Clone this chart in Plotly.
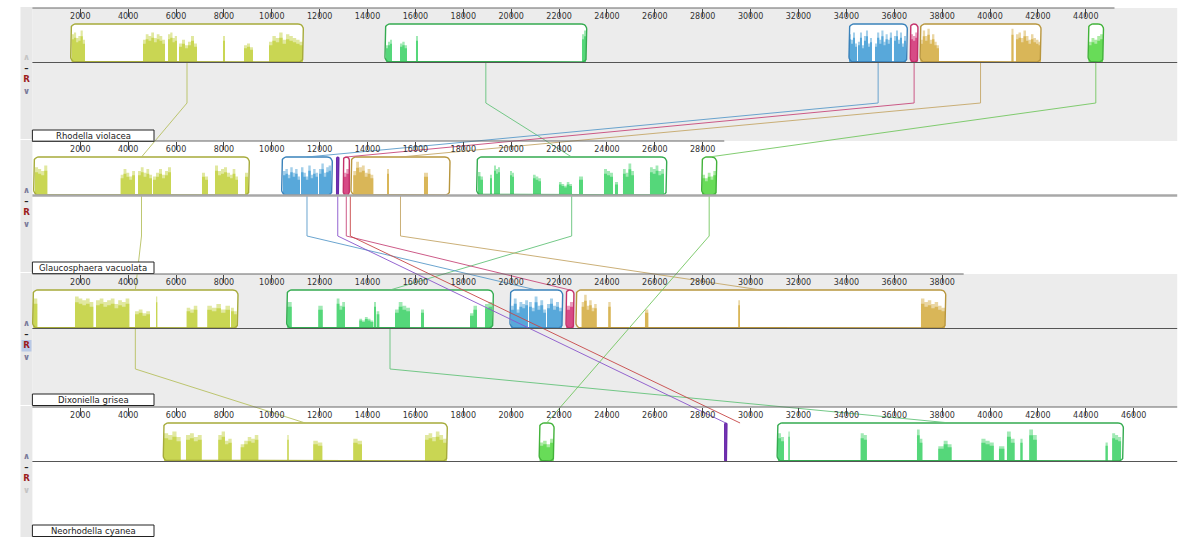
import numpy as np
import plotly.graph_objects as go

# ---------------- data ----------------
genomes = ["Rhodella violacea", "Glaucosphaera vacuolata", "Dixoniella grisea", "Neorhodella cyanea"]
genome_lengths = [45200, 28900, 38900, 47820]
tick_step = 2000

lcb_names = ["yellow", "green", "blue", "pink", "tan", "lime", "purple", "red"]

# LCB extents (start, end) in bp for each genome, None = absent
lcb_yellow = [(1600, 11316), (54, 9060), (12, 8588), (5468, 17330)]
lcb_green = [(14728, 23153), (18558, 26495), (10622, 19253), (31110, 45570)]
lcb_blue = [(34110, 36545), (10413, 12527), (19950, 22150), None]
lcb_pink = [(36670, 36990), (12986, 13237), (22290, 22620), None]
lcb_tan = [(37080, 42130), (13308, 17443), (22706, 38150), None]
lcb_lime = [(44100, 44740), (27957, 28583), None, (21170, 21790)]
lcb_purple = [None, (12710, 12800), None, (28920, 29010)]
lcb_red = [None, (13250, 13310), None, (29520, 29600)]
hidden_blocks = ["red"]

# similarity profiles: (start, end, [relative heights]) per genome
prof_yellow = [
    [(1642, 2197, [0.75, 0.8, 0.65, 0.7, 0.85, 0.6]), (4620, 5539, [0.6, 0.75, 0.7, 0.8, 0.65, 0.75, 0.7, 0.6]),
     (5664, 6040, [0.75, 0.8, 0.65, 0.7]), (6124, 6875, [0.5, 0.6, 0.45, 0.55, 0.7, 0.5]), (7961, 8045, [0.7]),
     (8839, 9214, [0.45, 0.5, 0.4]), (9883, 11303, [0.55, 0.7, 0.65, 0.8, 0.6, 0.75, 0.7, 0.65, 0.6, 0.55])],
    [(109, 622, [0.75, 0.7, 0.65, 0.8]), (3688, 4286, [0.55, 0.7, 0.6, 0.5, 0.65]), (4411, 4996, [0.65, 0.75, 0.6, 0.7, 0.55]),
     (5037, 5789, [0.5, 0.6, 0.7, 0.55, 0.65, 0.75]), (7084, 7335, [0.6, 0.5]), (7627, 8254, [0.8, 0.65, 0.7, 0.75, 0.6]),
     (8254, 8588, [0.55, 0.7, 0.5]), (8880, 9006, [0.6])],
    [(38, 205, [0.8]), (1779, 2544, [0.85, 0.8, 0.75, 0.8, 0.7]), (2657, 4048, [0.75, 0.8, 0.7, 0.75, 0.8, 0.65, 0.75, 0.7, 0.8]),
     (4286, 4912, [0.45, 0.5, 0.4, 0.45]), (5163, 5217, [0.85]), (6445, 6888, [0.55, 0.5, 0.6]),
     (7306, 8254, [0.6, 0.55, 0.65, 0.5, 0.6]), (8296, 8534, [0.55, 0.45])],
    [(5497, 6194, [0.75, 0.7, 0.8, 0.65]), (6416, 7072, [0.7, 0.75, 0.65, 0.7]), (7765, 8325, [0.7, 0.8, 0.55, 0.6]),
     (8701, 9436, [0.45, 0.55, 0.65, 0.6, 0.7]), (10647, 10706, [0.7]), (11733, 12109, [0.55, 0.5]),
     (13404, 13767, [0.6, 0.55]), (16399, 17305, [0.7, 0.75, 0.65, 0.8, 0.7, 0.6])],
]
prof_green = [
    [(14770, 15021, [0.45, 0.55, 0.6]), (15355, 15647, [0.5, 0.55, 0.45]), (16023, 16106, [0.7]), (22957, 23124, [0.75, 0.85])],
    [(18613, 18822, [0.62, 0.5]), (19114, 19198, [0.55]), (19281, 19532, [0.8, 0.7, 0.75]), (19950, 20117, [0.65, 0.6]),
     (20910, 21244, [0.55, 0.5, 0.45]), (21996, 22539, [0.35, 0.3, 0.25, 0.35, 0.3]), (22832, 22999, [0.5]),
     (23876, 24252, [0.7, 0.65, 0.6]), (24335, 24461, [0.35]), (24669, 25129, [0.7, 0.6, 0.85, 0.65]),
     (25797, 26382, [0.75, 0.7, 0.8, 0.65, 0.7])],
    [(10647, 10831, [0.7]), (11942, 12126, [0.6]), (12711, 13057, [0.8, 0.6, 0.7]), (13655, 14239, [0.25, 0.2, 0.3, 0.25, 0.2]),
     (14269, 14352, [0.7]), (14382, 14490, [0.45]), (15146, 15772, [0.5, 0.7, 0.6, 0.55]), (16232, 16357, [0.5]),
     (18279, 18571, [0.4, 0.6]), (18905, 19198, [0.65, 0.7])],
    [(31144, 31394, [0.75, 0.65]), (31579, 31634, [0.8]), (34598, 34857, [0.75, 0.7]), (36950, 37175, [0.85, 0.6]),
     (37840, 38065, [0.4]), (38065, 38395, [0.55, 0.45]), (39640, 40158, [0.6, 0.55, 0.5]), (40375, 40600, [0.4]),
     (40709, 41027, [0.8, 0.6]), (41269, 41361, [0.6]), (41640, 41954, [0.85, 0.7]), (44827, 44919, [0.5]),
     (45104, 45475, [0.75, 0.7, 0.65])],
]
prof_blue = [
    [(34109, 34444, [0.75, 0.6, 0.8, 0.5]), (34485, 35070, [0.55, 0.8, 0.45, 0.7, 0.85, 0.5, 0.65]),
     (35196, 35905, [0.5, 0.8, 0.6, 0.85, 0.55, 0.75, 0.6, 0.8]), (35989, 36490, [0.7, 0.85, 0.6, 0.8, 0.5, 0.7])],
    [(10468, 11178, [0.65, 0.7, 0.55, 0.75, 0.6, 0.7, 0.5]), (11220, 11930, [0.75, 0.6, 0.5, 0.8, 0.55, 0.7, 0.6]),
     (11971, 12473, [0.7, 0.85, 0.6, 0.75, 0.8])],
    [(19991, 20701, [0.6, 0.8, 0.5, 0.7, 0.65, 0.75]), (20743, 21453, [0.7, 0.55, 0.85, 0.6, 0.75, 0.5]),
     (21495, 22121, [0.65, 0.8, 0.6, 0.7, 0.55])],
    [],
]
prof_pink = [
    [(36690, 36970, [0.75, 0.7, 0.8])],
    [(13000, 13225, [0.6, 0.7])],
    [(22305, 22605, [0.6, 0.7])],
    [],
]
prof_tan = [
    [(37096, 37869, [0.6, 0.85, 0.7, 0.9, 0.6, 0.75, 0.55, 0.45]), (40897, 40981, [0.9]),
     (41085, 42129, [0.75, 0.8, 0.65, 0.85, 0.7, 0.6, 0.75, 0.65, 0.6, 0.55])],
    [(13404, 14239, [0.65, 0.9, 0.75, 0.8, 0.6, 0.7, 0.55]), (14812, 14895, [0.7]), (16357, 16524, [0.6])],
    [(22944, 23571, [0.7, 0.9, 0.6, 0.75, 0.55, 0.65]), (24055, 24155, [0.7]), (25588, 25726, [0.5]),
     (29485, 29556, [0.75]), (37117, 38119, [0.8, 0.7, 0.75, 0.65, 0.7, 0.6, 0.55])],
    [],
]
prof_lime = [
    [(44120, 44720, [0.55, 0.65, 0.6, 0.7, 0.75])],
    [(27980, 28560, [0.55, 0.45, 0.6, 0.5, 0.65])],
    [],
    [(21190, 21770, [0.5, 0.55, 0.45, 0.6])],
]
prof_purple = [[], [(12710, 12800, [1.0])], [], [(28920, 29010, [1.0])]]
prof_red = [[], [], [], []]

lcb_fill = {"yellow": "#c9d653", "green": "#55d77a", "blue": "#58a8da", "pink": "#d74b86",
            "tan": "#d9b658", "lime": "#68dc58", "purple": "#7a3cc0", "red": "#c23a3a"}
lcb_edge = {"yellow": "#a6ab3a", "green": "#34ab50", "blue": "#3a82ba", "pink": "#c4306a",
            "tan": "#b8963e", "lime": "#42b23a", "purple": "#6a2aa8", "red": "#a82828"}
lcb_line = {"yellow": "#b8c162", "green": "#66c47c", "blue": "#5c9ccb", "pink": "#c84a7c",
            "tan": "#c6a86a", "lime": "#75c862", "purple": "#8a55cc", "red": "#c84848"}

# ---------------- geometry (pixels) ----------------
W, H = 1196, 537
PX0 = 32.4
PXPERBP = 0.02394
PANEL_H = 133
RULER0 = 8
BLOCK_TOP, BLOCK_BOT, MID, BEND = 16, 54, 54.5, 95
NAME_BOX_TOP = [122, 121, 120, 118]


def px2bp(px):
    return (px - PX0) / PXPERBP


def blend(hexc, f):
    c = [int(hexc[i:i + 2], 16) for i in (1, 3, 5)]
    c = [int(v + (255 - v) * f) for v in c]
    return "#%02x%02x%02x" % tuple(c)


X_MIN, X_MAX = px2bp(0), px2bp(W)
ruler_y = [RULER0 + PANEL_H * k for k in range(len(genomes))]
panel_right = max(genome_lengths)

blocks = {"yellow": lcb_yellow, "green": lcb_green, "blue": lcb_blue, "pink": lcb_pink,
          "tan": lcb_tan, "lime": lcb_lime, "purple": lcb_purple, "red": lcb_red}
profiles = {"yellow": prof_yellow, "green": prof_green, "blue": prof_blue, "pink": prof_pink,
            "tan": prof_tan, "lime": prof_lime, "purple": prof_purple, "red": prof_red}


def rounded_rect(x0, x1, y0, y1, r_px=5.0):
    w_px = (x1 - x0) * PXPERBP
    r = max(min(r_px, w_px / 2.0, (y1 - y0) / 2.0), 0.3)
    rx = r / PXPERBP
    xs, ys = [], []
    for cx, cy, a0, a1 in [(x1 - rx, y0 + r, -90, 0), (x1 - rx, y1 - r, 0, 90),
                           (x0 + rx, y1 - r, 90, 180), (x0 + rx, y0 + r, 180, 270)]:
        t = np.radians(np.linspace(a0, a1, 7))
        xs += list(cx + rx * np.cos(t))
        ys += list(cy + r * np.sin(t))
    xs.append(xs[0]); ys.append(ys[0])
    return xs, ys


def step_poly(segs, base, hmax, scale):
    xs, ys = [], []
    for s, e, hs in segs:
        edges = np.linspace(s, e, len(hs) + 1)
        px, py = [s], [base]
        for i, h in enumerate(hs):
            top = base - h * hmax * scale
            px += [edges[i], edges[i + 1]]
            py += [top, top]
        px += [e, s]
        py += [base, base]
        xs += px + [None]
        ys += py + [None]
    return xs, ys


fig = go.Figure()

# block white fill
for name in lcb_names:
    if name in hidden_blocks:
        continue
    xs, ys = [], []
    for g, b in enumerate(blocks[name]):
        if b is None:
            continue
        rx_, ry_ = rounded_rect(b[0], b[1], ruler_y[g] + BLOCK_TOP, ruler_y[g] + BLOCK_BOT)
        xs += rx_ + [None]; ys += ry_ + [None]
    fig.add_trace(go.Scatter(x=xs, y=ys, mode="lines", fill="toself", fillcolor="white",
                             line=dict(width=0, color="white"), hoverinfo="skip", showlegend=False))

# similarity profiles (light upper, solid lower)
for name in lcb_names:
    for layer, scale, col in [("light", 1.0, blend(lcb_fill[name], 0.45)), ("solid", 0.82, lcb_fill[name])]:
        xs, ys = [], []
        for g, segs in enumerate(profiles[name]):
            if not segs:
                continue
            hmax = BLOCK_BOT - BLOCK_TOP - 1
            px, py = step_poly(segs, ruler_y[g] + BLOCK_BOT, hmax, scale if name != "purple" else 1.0)
            xs += px; ys += py
        if xs:
            fig.add_trace(go.Scatter(x=xs, y=ys, mode="lines", fill="toself", fillcolor=col,
                                     line=dict(width=0, color=col), hoverinfo="skip", showlegend=False))

# block outlines
for name in lcb_names:
    if name in hidden_blocks:
        continue
    xs, ys = [], []
    for g, b in enumerate(blocks[name]):
        if b is None:
            continue
        rx_, ry_ = rounded_rect(b[0], b[1], ruler_y[g] + BLOCK_TOP, ruler_y[g] + BLOCK_BOT)
        xs += rx_ + [None]; ys += ry_ + [None]
    fig.add_trace(go.Scatter(x=xs, y=ys, mode="lines", line=dict(width=1.4, color=lcb_edge[name]),
                             hoverinfo="skip", showlegend=False))

# connectors between genomes
for name in lcb_names:
    present = [g for g, b in enumerate(blocks[name]) if b is not None]
    xs, ys = [], []
    for a, b in zip(present[:-1], present[1:]):
        ca = sum(blocks[name][a]) / 2.0
        cb = sum(blocks[name][b]) / 2.0
        xs += [ca, ca, cb, None]
        ys += [ruler_y[a] + MID, ruler_y[a] + BEND, ruler_y[b] + BLOCK_TOP, None]
    fig.add_trace(go.Scatter(x=xs, y=ys, mode="lines", line=dict(width=1, color=lcb_line[name]),
                             opacity=0.9, hoverinfo="skip", showlegend=False))

# dummy traces for the extra ruler axes
for k in range(2, len(genomes) + 1):
    fig.add_trace(go.Scatter(x=[None], y=[None], xaxis="x%d" % k, yaxis="y", showlegend=False, hoverinfo="skip"))

shapes, annotations = [], []
for k, ry in enumerate(ruler_y):
    # panel background
    if k % 2 == 0:
        shapes.append(dict(type="rect", xref="x", yref="y", x0=0, x1=panel_right, y0=ry, y1=ry + PANEL_H,
                           fillcolor="#ececec", line=dict(width=0), layer="below"))
    # left control column
    shapes.append(dict(type="rect", xref="x", yref="y", x0=px2bp(20.5), x1=0, y0=ry - 1, y1=ry + PANEL_H - 2,
                       fillcolor="#e8e8e8", line=dict(width=0), layer="below"))
    # ruler line
    shapes.append(dict(type="line", xref="x", yref="y", x0=0, x1=genome_lengths[k], y0=ry, y1=ry,
                       line=dict(color="#666666", width=1)))
    # genome mid line
    if k == 1:
        shapes.append(dict(type="line", xref="x", yref="y", x0=0, x1=panel_right, y0=ry + MID, y1=ry + MID,
                           line=dict(color="#a8a8a8", width=2.5)))
    else:
        shapes.append(dict(type="line", xref="x", yref="y", x0=0, x1=panel_right, y0=ry + MID, y1=ry + MID,
                           line=dict(color="#555555", width=1)))
    # name box
    nb = ry + NAME_BOX_TOP[k]
    shapes.append(dict(type="rect", xref="x", yref="y", x0=0, x1=px2bp(154), y0=nb, y1=nb + 11.5,
                       fillcolor="white", line=dict(color="#222222", width=1)))
    annotations.append(dict(x=px2bp(93), y=nb + 5.8, xref="x", yref="y", text=genomes[k], showarrow=False,
                            font=dict(family="DejaVu Sans", size=8.5, color="#222222"), borderpad=0))
    # controls (single annotation, one glyph per line)
    up_col = "#c4c4c4" if k == 0 else "#7a7a9a"
    dn_col = "#c4c4c4" if k == len(genomes) - 1 else "#7a7a9a"
    if k == 2:
        shapes.append(dict(type="rect", xref="x", yref="y", x0=px2bp(21.5), x1=px2bp(31.5), y0=ry + 66, y1=ry + 77.5,
                           fillcolor="#b9c9e6", line=dict(width=0), layer="below"))
    ctl = ("<span style='color:%s'><b>∧</b></span><br>"
           "<span style='color:#222222'><b>–</b></span><br>"
           "<span style='color:#9c1c1c'><b>R</b></span><br>"
           "<span style='color:%s'><b>∨</b></span>") % (up_col, dn_col)
    annotations.append(dict(x=px2bp(26.5), y=ry + 66, xref="x", yref="y", text=ctl, showarrow=False,
                            font=dict(family="DejaVu Sans", size=8.6), borderpad=0))

layout_axes = {}
for k, ry in enumerate(ruler_y):
    tv = list(range(tick_step, genome_lengths[k], tick_step))
    ax = dict(range=[X_MIN, X_MAX], showgrid=False, zeroline=False, showline=False,
              anchor="free", position=1 - ry / H, side="top", ticks="inside", ticklen=8,
              tickcolor="#444444", tickwidth=1, tickvals=tv, ticktext=[str(v) for v in tv],
              ticklabelposition="inside", ticklabelstandoff=-5,
              tickfont=dict(family="DejaVu Sans", size=8, color="#333333"))
    if k == 0:
        layout_axes["xaxis"] = ax
    else:
        ax["overlaying"] = "x"
        layout_axes["xaxis%d" % (k + 1)] = ax

fig.update_layout(
    width=W, height=H, margin=dict(l=0, r=0, t=0, b=0),
    paper_bgcolor="white", plot_bgcolor="white",
    yaxis=dict(range=[H, 0], visible=False, domain=[0, 1]),
    shapes=shapes, annotations=annotations, showlegend=False,
    **layout_axes
)

fig.write_html("out.html", config={"displayModeBar": False},
               post_script="document.body.style.margin='0px';document.body.style.overflow='hidden';")
